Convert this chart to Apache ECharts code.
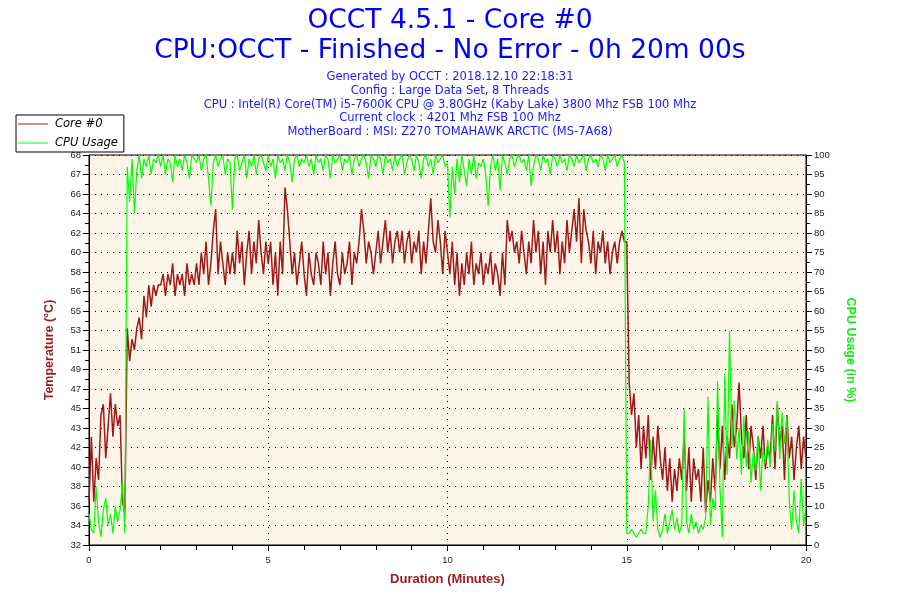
<!DOCTYPE html>
<html>
<head>
<meta charset="utf-8">
<script src="https://cdn.jsdelivr.net/npm/echarts@6/dist/echarts.min.js"></script>
<style>
html,body{margin:0;padding:0;background:#fff;}
#chart{width:900px;height:600px;}
</style>
</head>
<body>
<div id="chart"></div>
<script>
// ---- data (one sample every 4 seconds, 0 .. 20 minutes) ----
var sampleSeconds = 4;

var tempC = [
  36,42,36,40,38,44,45,40,43,46,42,45,43,44,36,
  35,52,49,51,50,52,53,51,55,53,56,54,56,55,56,
  56,57,55,57,56,58,55,57,56,57,55,58,56,57,56,
  58,56,59,57,60,56,58,61,63,57,60,58,56,59,57,
  59,57,61,58,60,56,59,61,57,60,58,62,59,57,60,
  58,60,56,59,55,60,57,65,63,60,57,59,56,58,60,
  57,55,59,57,56,59,58,56,60,57,59,55,58,60,57,
  56,59,57,58,60,56,59,58,60,63,61,58,60,59,57,
  59,61,58,60,62,59,61,58,60,61,59,61,58,60,61,
  58,60,59,61,57,60,58,61,64,60,59,62,60,57,61,
  59,57,60,56,59,55,58,56,59,57,60,56,58,57,59,
  56,58,57,59,56,58,57,55,59,56,62,60,61,59,60,
  58,61,59,57,60,58,62,59,61,57,60,56,61,59,62,
  59,61,57,60,58,62,59,61,63,60,64,58,63,61,60,
  58,61,57,60,59,61,58,60,57,59,60,58,60,61,60,
  60,47,44,46,41,44,39,43,40,44,38,42,39,43,40,
  38,41,37,40,36,39,37,40,38,42,37,41,36,40,38,
  39,36,41,35,38,36,40,37,44,39,43,38,42,40,45,
  41,43,47,42,40,44,39,43,41,38,42,40,43,39,41,
  40,44,39,45,41,43,38,44,40,42,38,41,43,39,42,
  40
];

var cpuPct = [
  8,4,3,15,6,2,9,12,5,8,3,10,6,9,16,
  3,97,88,99,85,96,100,94,99,97,100,95,99,98,100,
  97,100,95,99,98,93,100,97,99,96,100,98,94,100,99,
  98,100,96,99,100,94,87,98,100,97,99,100,95,99,98,
  86,99,100,96,98,100,94,99,97,100,95,99,100,98,96,
  100,97,99,94,100,98,99,96,100,98,93,99,100,97,99,
  98,100,97,99,95,100,98,99,96,100,99,94,100,98,99,
  100,96,99,98,100,95,99,100,97,99,100,98,94,100,99,
  97,100,99,95,100,98,99,96,100,97,99,100,95,98,100,
  99,96,100,98,94,99,100,97,99,95,100,98,99,100,97,
  98,84,97,90,99,93,100,96,92,99,95,100,94,98,97,
  99,95,87,97,100,96,99,91,100,98,95,99,100,97,99,
  100,98,99,96,100,92,97,100,99,96,100,98,99,95,100,
  99,97,100,98,99,96,100,99,97,100,98,99,100,96,99,
  100,98,99,97,100,99,96,100,98,99,100,97,99,100,98,
  3,3,4,3,2,3,4,3,3,10,27,6,14,4,2,
  4,8,3,6,9,4,7,3,5,35,6,3,8,4,6,
  3,5,4,7,38,5,12,9,42,15,2,44,18,55,25,
  37,22,30,18,33,20,29,16,24,19,28,14,25,21,27,
  20,31,24,37,22,34,26,33,11,4,14,6,3,17,5,
  10
];

var tempTickLabels = ['32','34','36','38','40','42','43','45','47','49','51','53','55','56','58','60','62','64','66','67','68'];

var titleMain = 'OCCT 4.5.1 - Core #0';
var titleSub = 'CPU:OCCT - Finished - No Error - 0h 20m 00s';
var infoLines = [
  'Generated by OCCT : 2018.12.10 22:18:31',
  'Config : Large Data Set, 8 Threads',
  'CPU : Intel(R) Core(TM) i5-7600K CPU @ 3.80GHz (Kaby Lake) 3800 Mhz FSB 100 Mhz',
  'Current clock : 4201 Mhz FSB 100 Mhz',
  'MotherBoard : MSI: Z270 TOMAHAWK ARCTIC (MS-7A68)'
];

// ---- build ----
function toPairs(arr){
  return arr.map(function(v,i){ return [i*sampleSeconds/60, v]; });
}

var RED = '#9e1a1a';
var GREEN = '#00ff00';
var dotted = [1,5];

var chart = echarts.init(document.getElementById('chart'), null, {renderer:'canvas'});

var graphics = [
  {type:'text', left:'center', top:8, style:{text:titleMain, fill:'#0000ff', font:'26.5px "DejaVu Sans"'}},
  {type:'text', left:'center', top:38, style:{text:titleSub, fill:'#0000ff', font:'26.5px "DejaVu Sans"'}}
];
infoLines.forEach(function(t,i){
  graphics.push({type:'text', left:'center', top:71 + i*13.8, style:{text:t, fill:'#1a1aff', font:'11.5px "DejaVu Sans"'}});
});

chart.setOption({
  backgroundColor:'#ffffff',
  animation:false,
  graphic: graphics,
  legend:{
    orient:'vertical', left:16, top:115,
    backgroundColor:'#ffffff', borderColor:'#000', borderWidth:1,
    padding:[3,6,3,2], itemGap:7,
    itemWidth:30, itemHeight:1, icon:'rect',
    textStyle:{fontStyle:'italic', fontSize:11.5, color:'#000', fontFamily:'DejaVu Sans', padding:[0,0,0,2]},
    data:['Core #0','CPU Usage'],
    z:10
  },
  grid:{left:89, right:94, top:155, bottom:55, show:true, backgroundColor:'#fdf6e8', borderColor:'#000', borderWidth:1},
  xAxis:{
    type:'value', min:0, max:20, interval:5,
    name:'Duration (Minutes)', nameLocation:'middle', nameGap:28,
    nameTextStyle:{color:RED, fontWeight:'bold', fontSize:13, fontFamily:'Liberation Sans'},
    axisLine:{lineStyle:{color:'#000', width:1}},
    axisTick:{length:6, lineStyle:{color:'#000'}},
    minorTick:{show:true, splitNumber:5, length:5, lineStyle:{color:'#000'}},
    axisLabel:{color:'#222', fontSize:9.5, fontFamily:'Liberation Sans', margin:10},
    splitLine:{show:true, lineStyle:{color:'#000', type:dotted, width:1}}
  },
  yAxis:[
    {
      type:'value', min:32, max:68, interval:1.8, position:'left',
      name:'Temperature (°C)', nameLocation:'middle', nameGap:33, nameRotate:90,
      nameTextStyle:{color:RED, fontWeight:'bold', fontSize:12.5, fontFamily:'Liberation Sans'},
      axisLine:{show:true, lineStyle:{color:'#000', width:1}},
      axisTick:{show:true, length:6, lineStyle:{color:'#000'}},
      minorTick:{show:true, splitNumber:2, length:4, lineStyle:{color:'#000'}},
      axisLabel:{color:'#222', fontSize:9.5, fontFamily:'Liberation Sans', margin:8,
        formatter:function(v){ var k=Math.round((v-32)/1.8); return tempTickLabels[k] || ''; }},
      splitLine:{show:true, lineStyle:{color:'#000', type:dotted, width:1}}
    },
    {
      type:'value', min:0, max:100, interval:5, position:'right',
      name:'CPU Usage (in %)', nameLocation:'middle', nameGap:38, nameRotate:-90,
      nameTextStyle:{color:'#11ee11', fontWeight:'bold', fontSize:12.5, fontFamily:'Liberation Sans'},
      axisLine:{show:true, lineStyle:{color:'#000', width:1}},
      axisTick:{show:true, length:6, lineStyle:{color:'#000'}},
      minorTick:{show:true, splitNumber:2, length:4, lineStyle:{color:'#000'}},
      axisLabel:{color:'#222', fontSize:9.5, fontFamily:'Liberation Sans', margin:8},
      splitLine:{show:false}
    }
  ],
  series:[
    {
      name:'Core #0', type:'line', yAxisIndex:0, showSymbol:false, symbol:'none',
      color:RED, lineStyle:{color:RED, width:1.5}, data:toPairs(tempC), z:2
    },
    {
      name:'CPU Usage', type:'line', yAxisIndex:1, showSymbol:false, symbol:'none',
      color:GREEN, lineStyle:{color:GREEN, width:1.2}, data:toPairs(cpuPct), z:3
    }
  ]
});
</script>
</body>
</html>
